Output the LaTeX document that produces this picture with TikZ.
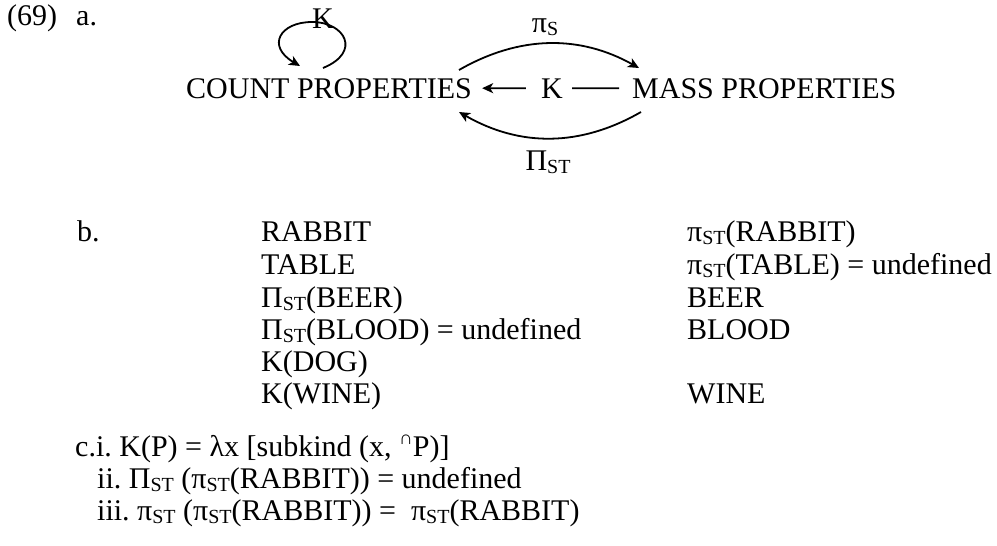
\documentclass[tikz,border=0pt]{standalone}
\usepackage{fontspec}
\setmainfont{Liberation Serif}
\usetikzlibrary{arrows.meta}
\newcommand{\lsub}[1]{\raisebox{-0.1em}{\fontsize{20}{20}\selectfont #1}}
\newcommand{\capup}{\raisebox{0.38em}{\fontsize{19}{19}\selectfont ∩}}
\begin{document}
\frenchspacing
\begin{tikzpicture}[x=1pt,y=-1pt,
  txt/.style={anchor=base west,inner sep=0pt,font=\fontsize{30}{35}\selectfont},
  ctxt/.style={anchor=base,inner sep=0pt,font=\fontsize{30}{35}\selectfont},
  arr/.style={line width=1.8pt,-{Stealth[length=11pt,width=10pt,inset=3pt]}},
  ln/.style={line width=1.8pt}]
\useasboundingbox[fill=white] (0,0) rectangle (997,546);
% part a
\node[txt] (num) at (7,25) {(69)};
\node[txt] (a) at (76,25) {a.};
\node[ctxt] (kl) at (323,28) {K};
\node[ctxt] (pis) at (545,32) {π\lsub{S}};
\node[txt] (count) at (186,98) {COUNT PROPERTIES};
\node[ctxt] (k) at (552,98) {K};
\node[txt] (mass) at (632,98) {MASS PROPERTIES};
\node[ctxt] (Pist) at (548,170) {Π\lsub{ST}};
\draw[arr,shorten >=10pt,shorten <=15pt] (k) -- (count);
\draw[ln,shorten >=9pt,shorten <=13pt] (mass) -- (k);
\coordinate (l1) at (323,68);
\coordinate (l2) at (300,66);
\draw[arr] (l1) .. controls (362,52) and (345,22) .. (312,22) .. controls (280,22) and (266,46) .. (l2);
\coordinate (u1) at (459,70);
\coordinate (u2) at (639,68);
\draw[arr] (u1) .. controls (520,35) and (580,35) .. (u2);
\coordinate (d1) at (641,112);
\coordinate (d2) at (459,112);
\draw[arr] (d1) .. controls (580,147) and (520,147) .. (d2);
% part b
\node[txt] (b) at (77,241) {b.};
\node[txt] (l-1) at (261,241) {RABBIT};
\node[txt] (l-2) at (261,274) {TABLE};
\node[txt] (l-3) at (261,307) {Π\lsub{ST}(BEER)};
\node[txt] (l-4) at (261,339) {Π\lsub{ST}(BLOOD) = undefined};
\node[txt] (l-5) at (261,371) {K(DOG)};
\node[txt] (l-6) at (261,403) {K(WINE)};
\node[txt] (r-1) at (687,241) {π\lsub{ST}(RABBIT)};
\node[txt] (r-2) at (687,274) {π\lsub{ST}(TABLE) = undefined};
\node[txt] (r-3) at (687,307) {BEER};
\node[txt] (r-4) at (687,339) {BLOOD};
\node[txt] (r-6) at (687,403) {WINE};
% part c
\node[txt] (ci) at (75,456) {c.i. K(P) = λx [subkind (x, \capup P)]};
\node[txt] (cii) at (97,488) {ii. Π\lsub{ST} (π\lsub{ST}(RABBIT)) = undefined};
\node[txt] (ciii) at (97,520) {iii. π\lsub{ST} (π\lsub{ST}(RABBIT)) =\ \ π\lsub{ST}(RABBIT)};
\end{tikzpicture}
\end{document}
